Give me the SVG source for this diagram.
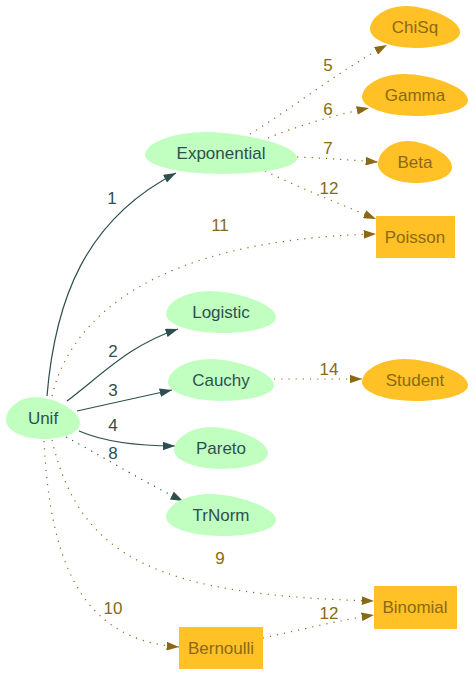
<svg xmlns="http://www.w3.org/2000/svg" width="476" height="676" viewBox="0 0 476 676">
<style>
text{font-family:"Liberation Sans",Arial,sans-serif;font-size:17px;text-anchor:middle}
.g{fill:#c1ffc1}
.gt{fill:#2f4f4f}
.o{fill:#ffc125}
.ot{fill:#8b6914}
.es{fill:none;stroke:#2f4f4f;stroke-width:1.2}
.ed{fill:none;stroke:#2f4f4f;stroke-width:1.2;stroke-dasharray:1.2,6}
.eo{fill:none;stroke:#8b6914;stroke-width:1.2;stroke-dasharray:1.2,6}
</style>
<defs>
<path id="egg" d="M1,0.25C1,0.7 0.55,1 0,1C-0.55,1 -1,0.6 -1,0.1C-1,-0.45 -0.65,-1 -0.2,-1C0.25,-1 1,-0.4 1,0.25Z"/>
<marker id="ad" viewBox="0 0 10 7" refX="10" refY="3.5" markerWidth="12.4" markerHeight="8.7" markerUnits="userSpaceOnUse" orient="auto"><path d="M0,0L10,3.5L0,7z" fill="#2f4f4f"/></marker>
<marker id="ao" viewBox="0 0 10 7" refX="10" refY="3.5" markerWidth="12.4" markerHeight="8.7" markerUnits="userSpaceOnUse" orient="auto"><path d="M0,0L10,3.5L0,7z" fill="#8b6914"/></marker>
</defs>
<rect width="476" height="676" fill="#fff"/>
<g id="edges">
<path class="es" marker-end="url(#ad)" d="M47,396C55,300 85,220 176,173"/>
<text class="gt" x="112" y="204">1</text>
<path class="es" marker-end="url(#ad)" d="M67,401C105,372 130,345 178,329"/>
<text class="gt" x="113" y="357">2</text>
<path class="es" marker-end="url(#ad)" d="M77,411C105,405 140,397 172,390"/>
<text class="gt" x="113" y="396">3</text>
<path class="es" marker-end="url(#ad)" d="M79,431C100,440 130,446 175,446"/>
<text class="gt" x="113" y="431">4</text>
<path class="ed" marker-end="url(#ad)" d="M66,437C100,455 140,480 183,501"/>
<text class="gt" x="113" y="459">8</text>
<path class="eo" marker-end="url(#ao)" d="M52,440C80,560 160,595 374,601"/>
<text class="ot" x="220" y="564">9</text>
<path class="eo" marker-end="url(#ao)" d="M44,441C50,560 80,640 179,647"/>
<text class="ot" x="113" y="614">10</text>
<path class="eo" marker-end="url(#ao)" d="M52,396C70,320 150,240 376,234"/>
<text class="ot" x="220" y="231">11</text>
<path class="eo" marker-end="url(#ao)" d="M265,171C300,188 340,204 376,219"/>
<text class="ot" x="329" y="194">12</text>
<path class="eo" marker-end="url(#ao)" d="M250,134C290,110 340,70 387,45"/>
<text class="ot" x="328" y="71">5</text>
<path class="eo" marker-end="url(#ao)" d="M268,138C300,125 335,115 369,108"/>
<text class="ot" x="328" y="115">6</text>
<path class="eo" marker-end="url(#ao)" d="M297,157C325,158 350,160 378,162"/>
<text class="ot" x="328" y="154">7</text>
<path class="eo" marker-end="url(#ao)" d="M274,379L362,379"/>
<text class="ot" x="329" y="375">14</text>
<path class="eo" marker-end="url(#ao)" d="M263,638C300,630 340,620 374,615"/>
<text class="ot" x="329" y="619">12</text>
</g>
<g id="Unif"><use href="#egg" class="g" transform="translate(43,418) scale(37,21)"/><text class="gt" x="43" y="424">Unif</text></g>
<g id="Exponential"><use href="#egg" class="g" transform="translate(221,153) scale(76,21)"/><text class="gt" x="221" y="159">Exponential</text></g>
<g id="Logistic"><use href="#egg" class="g" transform="translate(221,312) scale(55,21)"/><text class="gt" x="221" y="318">Logistic</text></g>
<g id="Cauchy"><use href="#egg" class="g" transform="translate(221,380) scale(53,21)"/><text class="gt" x="221" y="386">Cauchy</text></g>
<g id="Pareto"><use href="#egg" class="g" transform="translate(221,448) scale(47,21)"/><text class="gt" x="221" y="454">Pareto</text></g>
<g id="TrNorm"><use href="#egg" class="g" transform="translate(221,515) scale(55,21)"/><text class="gt" x="221" y="521">TrNorm</text></g>
<g id="ChiSq"><use href="#egg" class="o" transform="translate(415,27) scale(45,21)"/><text class="ot" x="415" y="33">ChiSq</text></g>
<g id="Gamma"><use href="#egg" class="o" transform="translate(415,95) scale(53,21)"/><text class="ot" x="415" y="101">Gamma</text></g>
<g id="Beta"><use href="#egg" class="o" transform="translate(415,162) scale(37,21)"/><text class="ot" x="415" y="168">Beta</text></g>
<g id="Student"><use href="#egg" class="o" transform="translate(415,380) scale(53,21)"/><text class="ot" x="415" y="386">Student</text></g>
<g id="Poisson"><rect class="o" x="376" y="216" width="79" height="42"/><text class="ot" x="415" y="243">Poisson</text></g>
<g id="Binomial"><rect class="o" x="374" y="586" width="83" height="43"/><text class="ot" x="415" y="613">Binomial</text></g>
<g id="Bernoulli"><rect class="o" x="179" y="627" width="84" height="42"/><text class="ot" x="221" y="654">Bernoulli</text></g>
</svg>
